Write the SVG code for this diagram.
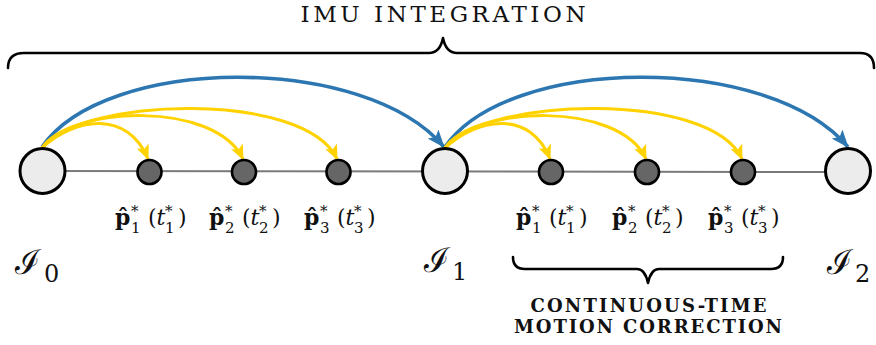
<svg xmlns="http://www.w3.org/2000/svg" width="876" height="345" viewBox="0 0 876 345">
<style>
.brace{fill:none;stroke:#000;stroke-width:2.6;stroke-linejoin:round;stroke-linecap:round}
.axis{stroke:#7a7a7a;stroke-width:2;fill:none}
.big{fill:#ececec;stroke:#000;stroke-width:3}
.small{fill:#666;stroke:#000;stroke-width:2.6}
.blue{fill:none;stroke:#2c77b1;stroke-width:3.6}
.yel{fill:none;stroke:#ffd200;stroke-width:3}
text{font-family:'DejaVu Serif',serif;fill:#111}
.title{font-size:23px}
.caps{font-size:18px;font-weight:bold}
.m{font-size:22px}
.b{font-weight:bold}
.i{font-style:italic}
.s{font-size:15px}
.cal{font-size:34px}
.sub{font-size:24px}
</style>
<defs>
<marker id="ab" viewBox="0 0 18 14" refX="17" refY="7" markerWidth="18" markerHeight="14" markerUnits="userSpaceOnUse" orient="auto">
<path d="M0,0 L18,7 L0,14 L4,7 z" fill="#2c77b1"/>
</marker>
<marker id="ay" viewBox="0 0 15 13" refX="14" refY="6.5" markerWidth="15" markerHeight="13" markerUnits="userSpaceOnUse" orient="auto">
<path d="M0,0 L15,6.5 L0,13 L3.5,6.5 z" fill="#ffd200"/>
</marker>
</defs>

<g id="title">
<text class="title" x="443" y="22" text-anchor="middle" textLength="285" lengthAdjust="spacing">IMU INTEGRATION</text>
<path class="brace" d="M8,68 Q8,53 24,53 L429,53 Q440,53 443,38 Q446,53 457,53 L860,53 Q874,53 874,68"/>
</g>

<g id="axis">
<line class="axis" x1="42" y1="171" x2="848" y2="172"/>
</g>

<g id="connectors">
<path class="blue" d="M42,147 C105,55 365,53 444,147" marker-end="url(#ab)"/>
<path class="blue" d="M445,147 C508,55 769,53 848,147" marker-end="url(#ab)"/>
<path class="yel" d="M42,148 C75,117 128,110 148,159" marker-end="url(#ay)"/>
<path class="yel" d="M42,148 C70,106 215,100 243,159" marker-end="url(#ay)"/>
<path class="yel" d="M42,148 C80,97 305,90 337,159" marker-end="url(#ay)"/>
<path class="yel" d="M445,148 C478,117 531,110 550,159" marker-end="url(#ay)"/>
<path class="yel" d="M445,148 C473,106 619,100 646,159" marker-end="url(#ay)"/>
<path class="yel" d="M445,148 C483,97 711,90 742,159" marker-end="url(#ay)"/>
</g>

<g id="I0">
<circle class="big" cx="42.5" cy="171" r="22.5"/>
<text class="cal" x="15" y="274">ℐ</text><text class="sub" x="44" y="282">0</text>
</g>
<g id="I1">
<circle class="big" cx="445" cy="171" r="22.5"/>
<text class="cal" x="424" y="272">ℐ</text><text class="sub" x="452" y="280">1</text>
</g>
<g id="I2">
<circle class="big" cx="848" cy="171" r="22.5"/>
<text class="cal" x="827" y="274">ℐ</text><text class="sub" x="855" y="282">2</text>
</g>

<g id="p1a">
<circle class="small" cx="149.5" cy="172" r="12"/>
<text class="m" y="225"><tspan x="115" class="b">p̂</tspan><tspan x="131" y="216" class="s">*</tspan><tspan x="131" y="233" class="s">1</tspan><tspan x="148" y="225">(</tspan><tspan class="i">t</tspan><tspan x="165" y="216" class="s">*</tspan><tspan x="165" y="233" class="s">1</tspan><tspan x="178" y="225">)</tspan></text>
</g>
<g id="p2a">
<circle class="small" cx="244" cy="172" r="12"/>
<text class="m" y="225"><tspan x="209" class="b">p̂</tspan><tspan x="225" y="216" class="s">*</tspan><tspan x="225" y="233" class="s">2</tspan><tspan x="242" y="225">(</tspan><tspan class="i">t</tspan><tspan x="259" y="216" class="s">*</tspan><tspan x="259" y="233" class="s">2</tspan><tspan x="272" y="225">)</tspan></text>
</g>
<g id="p3a">
<circle class="small" cx="338.5" cy="172" r="12"/>
<text class="m" y="225"><tspan x="304" class="b">p̂</tspan><tspan x="320" y="216" class="s">*</tspan><tspan x="320" y="233" class="s">3</tspan><tspan x="337" y="225">(</tspan><tspan class="i">t</tspan><tspan x="354" y="216" class="s">*</tspan><tspan x="354" y="233" class="s">3</tspan><tspan x="367" y="225">)</tspan></text>
</g>
<g id="p1b">
<circle class="small" cx="551" cy="172" r="12"/>
<text class="m" y="225"><tspan x="516" class="b">p̂</tspan><tspan x="532" y="216" class="s">*</tspan><tspan x="532" y="233" class="s">1</tspan><tspan x="549" y="225">(</tspan><tspan class="i">t</tspan><tspan x="566" y="216" class="s">*</tspan><tspan x="566" y="233" class="s">1</tspan><tspan x="579" y="225">)</tspan></text>
</g>
<g id="p2b">
<circle class="small" cx="647" cy="172" r="12"/>
<text class="m" y="225"><tspan x="612" class="b">p̂</tspan><tspan x="628" y="216" class="s">*</tspan><tspan x="628" y="233" class="s">2</tspan><tspan x="645" y="225">(</tspan><tspan class="i">t</tspan><tspan x="662" y="216" class="s">*</tspan><tspan x="662" y="233" class="s">2</tspan><tspan x="675" y="225">)</tspan></text>
</g>
<g id="p3b">
<circle class="small" cx="743" cy="172" r="12"/>
<text class="m" y="225"><tspan x="708" class="b">p̂</tspan><tspan x="724" y="216" class="s">*</tspan><tspan x="724" y="233" class="s">3</tspan><tspan x="741" y="225">(</tspan><tspan class="i">t</tspan><tspan x="758" y="216" class="s">*</tspan><tspan x="758" y="233" class="s">3</tspan><tspan x="771" y="225">)</tspan></text>
</g>

<g id="motion">
<path class="brace" d="M513,257 Q513,269 525,269 L637,269 Q645,269 648,283 Q651,269 659,269 L771,269 Q783,269 783,257"/>
<text class="caps" x="648.5" y="312" text-anchor="middle" textLength="236" lengthAdjust="spacing">CONTINUOUS-TIME</text>
<text class="caps" x="648" y="333" text-anchor="middle" textLength="268" lengthAdjust="spacing">MOTION CORRECTION</text>
</g>
</svg>
